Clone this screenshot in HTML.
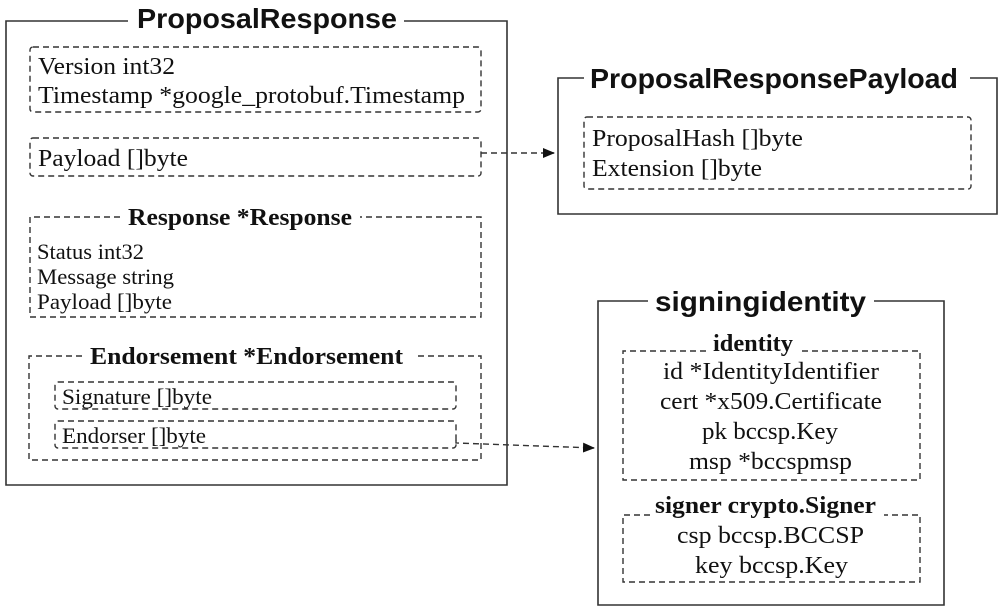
<!DOCTYPE html>
<html><head><meta charset="utf-8"><style>
html,body{margin:0;padding:0;background:#fff;}
svg{display:block;}
.t{font-family:"Liberation Sans",sans-serif;font-weight:bold;font-size:28px;fill:#111;}
.s{font-family:"Liberation Serif",serif;font-size:24px;fill:#111;}
.sm{font-family:"Liberation Serif",serif;font-size:22px;fill:#111;}
.b{font-family:"Liberation Serif",serif;font-weight:bold;font-size:24px;fill:#111;}
.solid{fill:none;stroke:#333;stroke-width:1.6;}
.dash{fill:none;stroke:#333;stroke-width:1.4;stroke-dasharray:6,4;}
</style></head><body>
<svg width="1006" height="608" viewBox="0 0 1006 608">
<defs><marker id="a" markerWidth="12" markerHeight="10" refX="11" refY="5" orient="auto" markerUnits="userSpaceOnUse"><path d="M0,0 L12,5 L0,10 z" fill="#111"/></marker></defs>
<path class="solid" d="M128,21 H6 V485 H507 V21 H404"/>
<text class="t" x="137" y="28" textLength="260" lengthAdjust="spacingAndGlyphs">ProposalResponse</text>
<rect class="dash" x="30" y="47" width="451" height="65" rx="3"/>
<text class="s" x="38" y="74" textLength="137" lengthAdjust="spacingAndGlyphs">Version int32</text>
<text class="s" x="38" y="103" textLength="427" lengthAdjust="spacingAndGlyphs">Timestamp *google_protobuf.Timestamp</text>
<rect class="dash" x="30" y="138" width="451" height="38" rx="3"/>
<text class="s" x="38" y="166" textLength="150" lengthAdjust="spacingAndGlyphs">Payload []byte</text>
<path class="dash" d="M120,217 H30 V317 H481 V217 H360"/>
<text class="b" x="128" y="225" textLength="224" lengthAdjust="spacingAndGlyphs">Response *Response</text>
<text class="sm" x="37" y="259" textLength="107" lengthAdjust="spacingAndGlyphs">Status int32</text>
<text class="sm" x="37" y="284" textLength="137" lengthAdjust="spacingAndGlyphs">Message string</text>
<text class="sm" x="37" y="309" textLength="135" lengthAdjust="spacingAndGlyphs">Payload []byte</text>
<path class="dash" d="M82,356 H29 V460 H481 V356 H414"/>
<text class="b" x="90" y="364" textLength="313" lengthAdjust="spacingAndGlyphs">Endorsement *Endorsement</text>
<rect class="dash" x="55" y="382" width="401" height="27" rx="3"/>
<text class="sm" x="62" y="404" textLength="150" lengthAdjust="spacingAndGlyphs">Signature []byte</text>
<rect class="dash" x="55" y="421" width="401" height="27" rx="3"/>
<text class="sm" x="62" y="443" textLength="144" lengthAdjust="spacingAndGlyphs">Endorser []byte</text>
<path class="dash" d="M481,153 H554" marker-end="url(#a)"/>
<path class="dash" d="M456,440 V443 L594,448" marker-end="url(#a)"/>
<path class="solid" d="M584,78 H558 V214 H997 V78 H970"/>
<text class="t" x="590" y="88" textLength="368" lengthAdjust="spacingAndGlyphs">ProposalResponsePayload</text>
<rect class="dash" x="584" y="117" width="387" height="72" rx="3"/>
<text class="s" x="592" y="146" textLength="211" lengthAdjust="spacingAndGlyphs">ProposalHash []byte</text>
<text class="s" x="592" y="176" textLength="170" lengthAdjust="spacingAndGlyphs">Extension []byte</text>
<path class="solid" d="M648,301 H598 V605 H944 V301 H874"/>
<text class="t" x="655" y="311" textLength="211" lengthAdjust="spacingAndGlyphs">signingidentity</text>
<path class="dash" d="M706,351 H623 V480 H920 V351 H802"/>
<text class="b" x="713" y="351" textLength="80" lengthAdjust="spacingAndGlyphs">identity</text>
<text class="s" x="663" y="379" textLength="216" lengthAdjust="spacingAndGlyphs">id *IdentityIdentifier</text>
<text class="s" x="660" y="409" textLength="222" lengthAdjust="spacingAndGlyphs">cert *x509.Certificate</text>
<text class="s" x="702" y="439" textLength="136" lengthAdjust="spacingAndGlyphs">pk bccsp.Key</text>
<text class="s" x="689" y="469" textLength="163" lengthAdjust="spacingAndGlyphs">msp *bccspmsp</text>
<path class="dash" d="M650,515 H623 V582 H920 V515 H884"/>
<text class="b" x="655" y="513" textLength="221" lengthAdjust="spacingAndGlyphs">signer crypto.Signer</text>
<text class="s" x="677" y="543" textLength="187" lengthAdjust="spacingAndGlyphs">csp bccsp.BCCSP</text>
<text class="s" x="695" y="573" textLength="153" lengthAdjust="spacingAndGlyphs">key bccsp.Key</text>
</svg>
</body></html>
